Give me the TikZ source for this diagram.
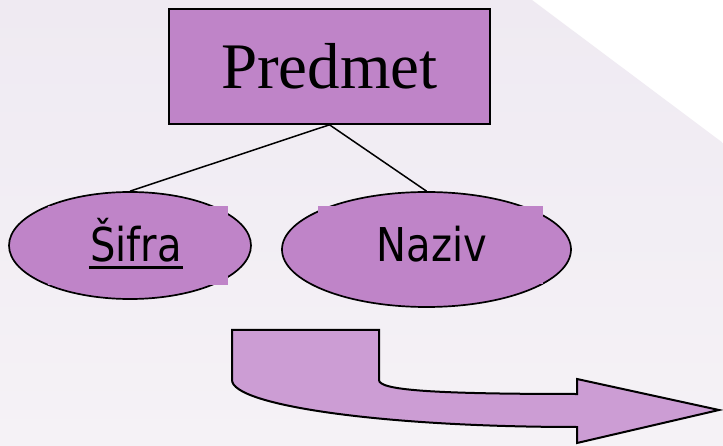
\documentclass[tikz,border=0pt]{standalone}
\usepackage{fontspec}
\setmainfont{Liberation Serif}
\newfontfamily\attrfont[FakeStretch=0.86]{DejaVu Sans}
\usetikzlibrary{shapes.geometric,calc}
\definecolor{entityfill}{RGB}{191,132,200}
\definecolor{arrowfill}{RGB}{204,157,212}
\definecolor{bgtop}{RGB}{239,234,242}
\definecolor{bgbottom}{RGB}{245,242,246}
\begin{document}
\begin{tikzpicture}[x=1pt,y=-1pt,
  entity/.style={draw=black, line width=1.6pt, fill=entityfill, inner sep=0pt},
  attr/.style={ellipse, draw=black, line width=1.7pt, fill=entityfill, inner sep=0pt},
  attrlabel/.style={fill=entityfill, inner sep=0pt},
  attrtext/.style={font=\attrfont\fontsize{46.6}{50}\selectfont, inner sep=0pt, anchor=base},
  link/.style={draw=black, line width=1.5pt},
  bentarrow/.style={draw=black, line width=2pt, fill=arrowfill, line join=miter}]
\useasboundingbox (0,0) rectangle (723,446);
% slide background with the pale diagonal corner
\fill[white] (0,0) rectangle (723,446);
\shade[top color=bgtop, bottom color=bgbottom]
  (0,0) -- (532,0) -- (723,143) -- (723,446) -- (0,446) -- cycle;

% entity
\node[entity, minimum width=321pt, minimum height=115pt,
      font=\fontsize{65}{70}\selectfont] (predmet) at (329.5,66.5) {Predmet};

% attributes
\node[attr, minimum width=242pt, minimum height=107pt] (sifra) at (130,245.5) {};
\node[attrlabel, minimum width=180pt, minimum height=79pt] (sifraBox) at (138,245.5) {};
\node[attrtext] (sifraText) at (136,262) {Šifra};
\draw[line width=3pt] ($(sifraText.base west)+(-1,5.5)$) -- ($(sifraText.base east)+(1,5.5)$);

\node[attr, minimum width=289pt, minimum height=115pt] (naziv) at (426.5,249.5) {};
\node[attrlabel, minimum width=225pt, minimum height=78pt] (nazivBox) at (430.5,245) {};
\node[attrtext] (nazivText) at (431.7,261.5) {Naziv};

% links from entity to its attributes
\draw[link] (predmet.south) -- (sifra.north);
\draw[link] (predmet.south) -- (naziv.north);

% bent block arrow
\draw[bentarrow] (232,330) -- (379,330) -- (379,380)
  .. controls (379,390) and (430,394) .. (577,394)
  -- (577,379) -- (719,410) -- (577,443) -- (577,427)
  .. controls (380,427) and (232,405) .. (232,380) -- cycle;
\end{tikzpicture}
\end{document}
